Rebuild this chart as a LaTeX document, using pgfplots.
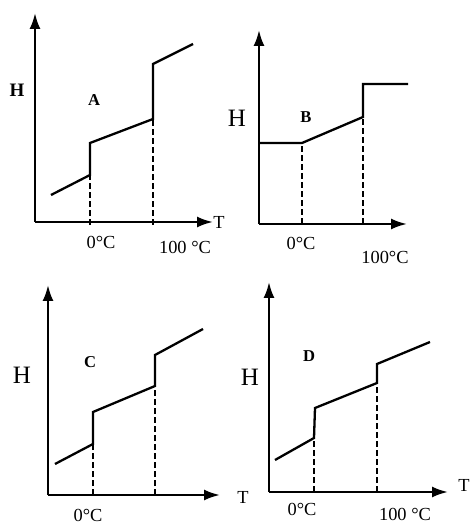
\documentclass[border=0pt]{standalone}
\usepackage{fontspec}
\setmainfont{Liberation Serif}
\usepackage{pgfplots}
\pgfplotsset{compat=1.18}
\usetikzlibrary{arrows.meta}
\pgfplotsset{
  panel/.style={
    x=0.5pt, y=0.5pt, scale only axis, anchor=origin,
    xmin=0, ymin=0,
    axis lines=left,
    axis line style={line width=1.15pt, -{Latex[length=8pt,width=5.5pt]}},
    xtick=\empty, ytick=\empty,
    clip=false,
  },
  curve/.style={black, line width=1.15pt, no marks, line join=miter},
  drop/.style={black, line width=1.3pt, no marks, dash pattern=on 3pt off 1.5pt},
}
\newcommand{\txt}{\fontsize{9.2}{10}\selectfont}
\newcommand{\bigH}{\fontsize{12.5}{13}\selectfont}
\newcommand{\lab}{\fontsize{8.3}{9}\selectfont\bfseries}
\begin{document}
\begin{tikzpicture}
\clip (0,0) rectangle (235pt,262pt);
% Panel A, origin (35,222)
\begin{axis}[panel, at={(17.5pt,151pt)}, xmax=178, ymax=209]
\addplot[curve] coordinates {(16,27) (55,47) (55,79) (118,103) (118,158) (158,178)};
\addplot[drop] coordinates {(55,-3) (55,47)};
\addplot[drop] coordinates {(118,-3) (118,103)};
\node[font=\fontsize{9.5}{10}\selectfont\bfseries] at (axis cs:-18,132) {H};
\node[font=\lab] at (axis cs:59,122) {A};
\node[font=\txt] at (axis cs:184,0) {T};
\node[font=\txt] at (axis cs:66,-20) {0°C};
\node[font=\txt] at (axis cs:150,-25) {100 °C};
\end{axis}
% Panel B, origin (259,224)
\begin{axis}[panel, at={(129.5pt,150pt)}, xmax=148, ymax=194]
\addplot[curve] coordinates {(0,81) (43,81) (104,107) (104,140) (149,140)};
\addplot[drop] coordinates {(43,0) (43,81)};
\addplot[drop] coordinates {(104,0) (104,107)};
\node[font=\bigH] at (axis cs:-22,106) {H};
\node[font=\lab] at (axis cs:47,107) {B};
\node[font=\txt] at (axis cs:42,-19) {0°C};
\node[font=\txt] at (axis cs:126,-33) {100°C};
\end{axis}
% Panel C, origin (48,495)
\begin{axis}[panel, at={(24pt,14.5pt)}, xmax=172, ymax=210]
\addplot[curve] coordinates {(7,31) (45,51) (45,83) (107,109) (107,140) (155,166)};
\addplot[drop] coordinates {(45,0) (45,51)};
\addplot[drop] coordinates {(107,0) (107,109)};
\node[font=\bigH] at (axis cs:-26,120) {H};
\node[font=\lab] at (axis cs:42,133) {C};
\node[font=\txt] at (axis cs:195,-2) {T};
\node[font=\txt] at (axis cs:40,-20) {0°C};
\end{axis}
% Panel D, origin (269,492)
\begin{axis}[panel, at={(134.5pt,16pt)}, xmax=179, ymax=210]
\addplot[curve] coordinates {(6,32) (45,54) (46,84) (108,109) (108,128) (161,150)};
\addplot[drop] coordinates {(45,0) (45,54)};
\addplot[drop] coordinates {(108,0) (108,109)};
\node[font=\bigH] at (axis cs:-19,115) {H};
\node[font=\lab] at (axis cs:40,136) {D};
\node[font=\txt] at (axis cs:195,7) {T};
\node[font=\txt] at (axis cs:33,-17) {0°C};
\node[font=\txt] at (axis cs:136,-22) {100 °C};
\end{axis}
\end{tikzpicture}
\end{document}
